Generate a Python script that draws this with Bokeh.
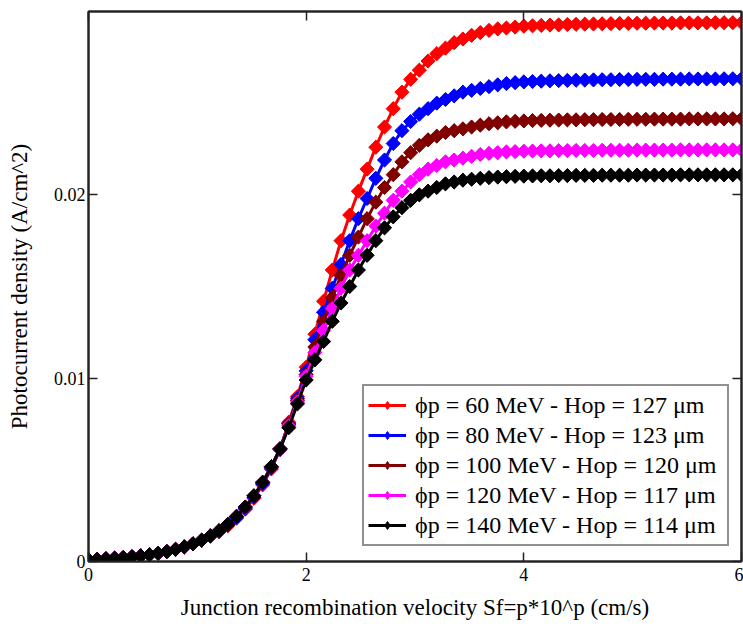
import math
from bokeh.plotting import figure
from bokeh.models import Legend, LegendItem, LinearAxis, FixedTicker, NumeralTickFormatter, CustomJSTickFormatter
from bokeh.embed import file_html
from bokeh.resources import INLINE

p_values = [0.0, 0.08, 0.16, 0.24, 0.32, 0.4, 0.48, 0.56, 0.64, 0.72,
            0.8, 0.88, 0.96, 1.04, 1.12, 1.2, 1.28, 1.36, 1.44, 1.52,
            1.6, 1.68, 1.76, 1.84, 1.92, 2.0, 2.08, 2.16, 2.24, 2.32,
            2.4, 2.48, 2.56, 2.64, 2.72, 2.8, 2.88, 2.96, 3.04, 3.12,
            3.2, 3.28, 3.36, 3.44, 3.52, 3.6, 3.68, 3.76, 3.84, 3.92,
            4.0, 4.08, 4.16, 4.24, 4.32, 4.4, 4.48, 4.56, 4.64, 4.72,
            4.8, 4.88, 4.96, 5.04, 5.12, 5.2, 5.28, 5.36, 5.44, 5.52,
            5.6, 5.68, 5.76, 5.84, 5.92, 6.0]

j_60 = [0.00010, 0.00012, 0.00015, 0.00018, 0.00022, 0.00026, 0.00031, 0.00037, 0.00045, 0.00054,
        0.00066, 0.00080, 0.00096, 0.00116, 0.00139, 0.00162, 0.00195, 0.00236, 0.00285, 0.00345,
        0.00418, 0.00505, 0.00610, 0.00760, 0.00900, 0.01060, 0.01240, 0.01420, 0.01590, 0.01750,
        0.01890, 0.02020, 0.02140, 0.02260, 0.02370, 0.02470, 0.02560, 0.02630, 0.02680, 0.02730,
        0.02770, 0.02800, 0.02830, 0.02850, 0.02870, 0.02885, 0.02897, 0.02905, 0.02910, 0.02915,
        0.02920, 0.02922, 0.02924, 0.02926, 0.02927, 0.02929, 0.02930, 0.02931, 0.02932, 0.02933,
        0.02934, 0.02935, 0.02935, 0.02936, 0.02936, 0.02937, 0.02937, 0.02937, 0.02938, 0.02938,
        0.02938, 0.02938, 0.02939, 0.02939, 0.02939, 0.02939]

j_80 = [0.00010, 0.00012, 0.00015, 0.00018, 0.00022, 0.00026, 0.00031, 0.00037, 0.00045, 0.00054,
        0.00066, 0.00080, 0.00096, 0.00116, 0.00140, 0.00165, 0.00199, 0.00241, 0.00291, 0.00351,
        0.00425, 0.00511, 0.00612, 0.00750, 0.00890, 0.01040, 0.01210, 0.01360, 0.01490, 0.01620,
        0.01750, 0.01870, 0.01980, 0.02090, 0.02190, 0.02280, 0.02350, 0.02400, 0.02440, 0.02470,
        0.02500, 0.02520, 0.02540, 0.02560, 0.02570, 0.02580, 0.02590, 0.02600, 0.02607, 0.02612,
        0.02616, 0.02618, 0.02620, 0.02622, 0.02623, 0.02624, 0.02625, 0.02626, 0.02627, 0.02628,
        0.02628, 0.02629, 0.02629, 0.02630, 0.02630, 0.02630, 0.02631, 0.02631, 0.02631, 0.02632,
        0.02632, 0.02632, 0.02632, 0.02633, 0.02633, 0.02633]

j_100 = [0.00010, 0.00012, 0.00015, 0.00018, 0.00022, 0.00026, 0.00031, 0.00037, 0.00045, 0.00054,
         0.00066, 0.00080, 0.00096, 0.00116, 0.00140, 0.00168, 0.00203, 0.00246, 0.00297, 0.00358,
         0.00432, 0.00517, 0.00615, 0.00750, 0.00880, 0.01020, 0.01170, 0.01310, 0.01440, 0.01560,
         0.01670, 0.01770, 0.01870, 0.01960, 0.02040, 0.02110, 0.02180, 0.02230, 0.02270, 0.02300,
         0.02320, 0.02340, 0.02350, 0.02360, 0.02370, 0.02380, 0.02388, 0.02393, 0.02398, 0.02401,
         0.02403, 0.02405, 0.02406, 0.02407, 0.02408, 0.02409, 0.02409, 0.02410, 0.02410, 0.02411,
         0.02411, 0.02411, 0.02412, 0.02412, 0.02412, 0.02413, 0.02413, 0.02413, 0.02413, 0.02414,
         0.02414, 0.02414, 0.02414, 0.02414, 0.02415, 0.02415]

j_120 = [0.00010, 0.00012, 0.00015, 0.00018, 0.00022, 0.00026, 0.00031, 0.00037, 0.00045, 0.00054,
         0.00066, 0.00080, 0.00096, 0.00116, 0.00140, 0.00168, 0.00203, 0.00246, 0.00297, 0.00358,
         0.00432, 0.00517, 0.00615, 0.00740, 0.00870, 0.01010, 0.01140, 0.01260, 0.01380, 0.01490,
         0.01590, 0.01670, 0.01750, 0.01830, 0.01900, 0.01970, 0.02020, 0.02070, 0.02110, 0.02140,
         0.02160, 0.02180, 0.02190, 0.02200, 0.02210, 0.02220, 0.02226, 0.02230, 0.02234, 0.02236,
         0.02238, 0.02239, 0.02240, 0.02240, 0.02241, 0.02241, 0.02242, 0.02242, 0.02242, 0.02243,
         0.02243, 0.02243, 0.02243, 0.02244, 0.02244, 0.02244, 0.02244, 0.02244, 0.02245, 0.02245,
         0.02245, 0.02245, 0.02245, 0.02245, 0.02245, 0.02245]

j_140 = [0.00010, 0.00012, 0.00015, 0.00018, 0.00022, 0.00026, 0.00031, 0.00037, 0.00045, 0.00054,
         0.00066, 0.00080, 0.00096, 0.00116, 0.00140, 0.00168, 0.00203, 0.00246, 0.00297, 0.00358,
         0.00432, 0.00517, 0.00615, 0.00730, 0.00860, 0.00990, 0.01100, 0.01200, 0.01310, 0.01410,
         0.01500, 0.01590, 0.01670, 0.01750, 0.01820, 0.01880, 0.01930, 0.01970, 0.02000, 0.02020,
         0.02040, 0.02060, 0.02070, 0.02080, 0.02085, 0.02090, 0.02094, 0.02097, 0.02099, 0.02101,
         0.02102, 0.02103, 0.02104, 0.02104, 0.02105, 0.02105, 0.02106, 0.02106, 0.02106, 0.02107,
         0.02107, 0.02107, 0.02107, 0.02108, 0.02108, 0.02108, 0.02108, 0.02108, 0.02109, 0.02109,
         0.02109, 0.02109, 0.02109, 0.02109, 0.02109, 0.02109]

series_labels = ["ϕp = 60 MeV - Hop = 127 μm",
                 "ϕp = 80 MeV - Hop = 123 μm",
                 "ϕp = 100 MeV - Hop = 120 μm",
                 "ϕp = 120 MeV - Hop = 117 μm",
                 "ϕp = 140 MeV - Hop = 114 μm"]
series_values = [j_60, j_80, j_100, j_120, j_140]
series_colors = ["#FF0000", "#0000FF", "#800000", "#FF00FF", "#000000"]

x_ticks = [0, 2, 4, 6]
y_ticks = [0, 0.01, 0.02]

FONT = "'Liberation Serif', 'Times New Roman', serif"

p = figure(width=743, height=637, x_range=(0, 6), y_range=(0, 0.03),
           output_backend="svg", toolbar_location=None,
           min_border_left=88, min_border_right=2, min_border_top=11, min_border_bottom=76)
p.grid.visible = False
p.outline_line_color = "#333333"
p.outline_line_width = 2
p.background_fill_color = "white"
p.border_fill_color = "white"

def style_axis(ax, labels=True):
    ax.major_tick_in = 9
    ax.major_tick_out = 0
    ax.minor_tick_in = 0
    ax.minor_tick_out = 0
    ax.axis_line_color = "#222222"
    ax.axis_line_width = 2
    ax.major_tick_line_color = "#222222"
    ax.major_tick_line_width = 1.5
    if labels:
        ax.major_label_text_font = FONT
        ax.major_label_text_font_size = "18px"
        ax.major_label_text_color = "black"
        ax.axis_label_text_font = FONT
        ax.axis_label_text_font_size = "23px"
        ax.axis_label_text_font_style = "normal"
        ax.axis_label_text_color = "black"
    else:
        ax.formatter = CustomJSTickFormatter(code="return '';")
        ax.major_label_standoff = 0

xa = p.xaxis[0]
xa.ticker = FixedTicker(ticks=x_ticks)
xa.axis_label = "Junction recombination velocity Sf=p*10^p (cm/s)"
style_axis(xa)
xa.major_label_standoff = 6
xa.axis_label_standoff = 11

ya = p.yaxis[0]
ya.ticker = FixedTicker(ticks=y_ticks)
ya.formatter = NumeralTickFormatter(format="0.[00]")
ya.axis_label = "Photocurrent density (A/cm^2)"
style_axis(ya)
ya.major_label_standoff = 3
ya.axis_label_standoff = 19

top = LinearAxis(ticker=FixedTicker(ticks=x_ticks))
style_axis(top, labels=False)
p.add_layout(top, "above")
right = LinearAxis(ticker=FixedTicker(ticks=y_ticks))
style_axis(right, labels=False)
p.add_layout(right, "right")

items = []
for lab, vals, col in zip(series_labels, series_values, series_colors):
    lr = p.line(p_values, vals, line_color=col, line_width=3)
    # diamond drawn under the rotated squares; used for the legend swatch
    dr = p.scatter(p_values, vals, marker="diamond", size=13, fill_color=col, line_color=col)
    p.scatter(p_values, vals, marker="square", angle=math.pi / 4, size=10,
              fill_color=col, line_color=col)
    items.append(LegendItem(label=lab, renderers=[lr, dr]))

legend = Legend(items=items, location=(274, 15))
legend.label_text_font = FONT
legend.label_text_font_size = "24px"
legend.label_text_color = "black"
legend.label_height = 30
legend.label_width = 308
legend.glyph_height = 20
legend.glyph_width = 38
legend.label_standoff = 9
legend.padding = 4
legend.spacing = 0
legend.margin = 0
legend.border_line_color = "#222222"
legend.border_line_width = 2
legend.background_fill_alpha = 1
p.add_layout(legend)

open("out.html", "w").write(file_html(p, INLINE))
